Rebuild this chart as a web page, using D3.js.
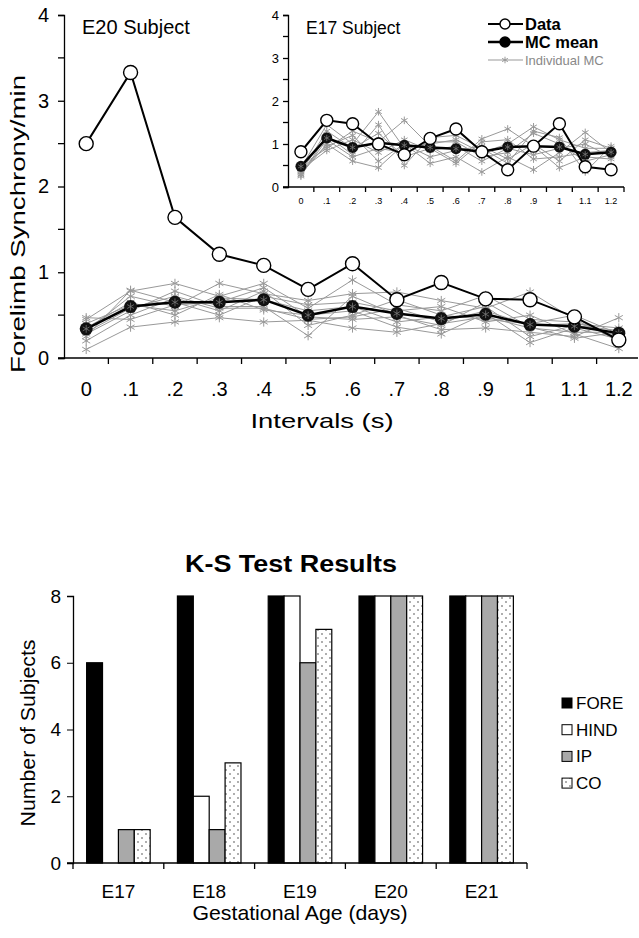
<!DOCTYPE html>
<html>
<head>
<meta charset="utf-8">
<script src="https://cdn.jsdelivr.net/npm/d3@7"></script>
<style>
  body { margin: 0; background: #fff; }
  svg { display: block; font-family: "Liberation Sans", Arial, sans-serif; }
</style>
</head>
<body>
<svg id="fig" width="639" height="938"></svg>
<script>
// interval categories (s)
const intervals = ["0", ".1", ".2", ".3", ".4", ".5", ".6", ".7", ".8", ".9", "1", "1.1", "1.2"]
const insetIntervals = ["0", ".1", ".2", ".3", ".4", ".5", ".6", ".7", ".8", ".9", "1", "1.1", "1.2"]

// E20 subject (main panel)
const e20Data = [2.5, 3.33, 1.64, 1.21, 1.08, 0.8, 1.1, 0.68, 0.88, 0.69, 0.68, 0.48, 0.21]
const e20Mean = [0.34, 0.6, 0.65, 0.65, 0.68, 0.5, 0.6, 0.52, 0.46, 0.51, 0.39, 0.37, 0.29]
const e20MC = [
  [0.45, 0.78, 0.87, 0.72, 0.87, 0.58, 0.91, 0.62, 0.55, 0.73, 0.45, 0.42, 0.25],
  [0.32, 0.72, 0.6, 0.87, 0.75, 0.67, 0.75, 0.77, 0.67, 0.58, 0.77, 0.45, 0.2],
  [0.1, 0.36, 0.42, 0.47, 0.42, 0.44, 0.35, 0.3, 0.4, 0.48, 0.35, 0.3, 0.3],
  [0.28, 0.55, 0.78, 0.6, 0.6, 0.26, 0.72, 0.5, 0.33, 0.35, 0.3, 0.25, 0.47],
  [0.4, 0.62, 0.55, 0.7, 0.68, 0.55, 0.6, 0.42, 0.48, 0.6, 0.25, 0.38, 0.32],
  [0.2, 0.5, 0.7, 0.55, 0.78, 0.38, 0.5, 0.68, 0.5, 0.45, 0.4, 0.5, 0.28],
  [0.35, 0.65, 0.5, 0.74, 0.56, 0.5, 0.55, 0.36, 0.28, 0.52, 0.18, 0.35, 0.22],
  [0.25, 0.79, 0.65, 0.5, 0.72, 0.62, 0.65, 0.55, 0.6, 0.42, 0.5, 0.28, 0.11],
  [0.47, 0.45, 0.62, 0.65, 0.82, 0.48, 0.45, 0.48, 0.38, 0.65, 0.36, 0.23, 0.3],
  [0.3, 0.58, 0.72, 0.58, 0.58, 0.45, 0.48, 0.58, 0.42, 0.55, 0.38, 0.4, 0.35]
]

// E17 subject (inset)
const e17Data = [0.82, 1.55, 1.47, 1.0, 0.75, 1.13, 1.35, 0.82, 0.4, 0.95, 1.47, 0.47, 0.4]
const e17Mean = [0.48, 1.14, 0.92, 1.03, 0.97, 0.92, 0.89, 0.82, 0.93, 0.95, 0.93, 0.76, 0.81]
const e17MC = [
  [0.45, 1.45, 1.0, 1.75, 0.9, 1.0, 1.1, 0.8, 1.0, 1.4, 1.1, 0.9, 0.9],
  [0.3, 1.0, 0.6, 0.45, 1.0, 0.55, 0.7, 0.35, 0.7, 0.4, 0.8, 1.27, 0.8],
  [0.5, 0.9, 1.3, 1.05, 1.55, 0.95, 0.6, 1.12, 1.35, 0.95, 0.45, 0.7, 0.65],
  [0.25, 1.2, 0.75, 1.45, 0.5, 1.15, 1.2, 0.9, 0.55, 1.3, 1.15, 0.35, 0.95],
  [0.4, 0.85, 1.1, 0.8, 1.1, 0.85, 0.95, 0.6, 0.9, 0.75, 0.9, 1.0, 0.7],
  [0.35, 1.3, 0.9, 1.25, 0.7, 0.9, 0.55, 1.05, 1.1, 0.65, 0.7, 0.8, 0.85],
  [0.28, 1.1, 0.7, 0.9, 0.8, 1.05, 1.05, 0.7, 0.8, 1.25, 1.0, 0.6, 0.75],
  [0.42, 0.95, 1.2, 0.6, 1.0, 0.7, 0.85, 0.95, 0.65, 1.0, 0.6, 1.1, 0.9]
]
const synchronyTicks = [0, 1, 2, 3, 4]
const synchronyMinor = [0.5, 1.5, 2.5, 3.5]

// K-S test results
const ages = ["E17", "E18", "E19", "E20", "E21"]
const limbs = ["FORE", "HIND", "IP", "CO"]
const fore = [6, 8, 8, 8, 8]
const hind = [0, 2, 8, 8, 8]
const ip = [1, 1, 6, 8, 8]
const co = [1, 3, 7, 8, 8]
const subjectTicks = [0, 2, 4, 6, 8]

const svg = d3.select("#fig")
const grey = "#999"

const defs = svg.append("defs")
const pat = defs.append("pattern")
  .attr("id", "dots")
  .attr("width", 8).attr("height", 8)
  .attr("patternUnits", "userSpaceOnUse")
pat.append("rect").attr("width", 8).attr("height", 8).attr("fill", "#fff")
pat.append("circle").attr("cx", 2).attr("cy", 2).attr("r", 0.7).attr("fill", "#222")
pat.append("circle").attr("cx", 6).attr("cy", 6).attr("r", 0.7).attr("fill", "#222")

const star = d3.symbol().type(d3.symbolAsterisk)

// draws one line panel (main or inset)
function linePanel(opt) {
  const g = svg.append("g")
  const x = d3.scaleBand().domain(opt.cats).range(opt.xr)
  const y = d3.scaleLinear().domain([0, 4]).range(opt.yr)
  const cx = d => x(d) + x.bandwidth() / 2

  // y axis
  const ya = g.append("g")
    .attr("transform", `translate(${opt.xr[0]},0)`)
    .call(d3.axisLeft(y).tickValues(synchronyTicks).tickSize(opt.tick).tickPadding(opt.pad).tickFormat(d3.format("d")))
  ya.select(".domain").attr("stroke-width", 1.3)
  ya.selectAll(".tick line").attr("stroke-width", 1.3)
  ya.selectAll("text").style("font-size", opt.yfs + "px").attr("fill", "#000")
  ya.selectAll(".minor").data(synchronyMinor).join("line")
    .attr("class", "minor")
    .attr("x1", -opt.tick).attr("x2", 0)
    .attr("y1", d => y(d)).attr("y2", d => y(d))
    .attr("stroke", "#000").attr("stroke-width", 1.3)

  // x axis
  const xa = g.append("g").attr("transform", `translate(0,${opt.yr[0]})`)
  xa.append("line")
    .attr("x1", opt.xr[0] - opt.tick).attr("x2", opt.xEnd)
    .attr("stroke", "#000").attr("stroke-width", 1.3)
  xa.selectAll(".bt").data(opt.cats.slice(1).concat(["end"])).join("line")
    .attr("class", "bt")
    .attr("x1", d => d == "end" ? opt.xr[1] : x(d))
    .attr("x2", d => d == "end" ? opt.xr[1] : x(d))
    .attr("y1", 0).attr("y2", opt.tick)
    .attr("stroke", "#000").attr("stroke-width", 1.3)
  xa.selectAll(".lab").data(opt.cats).join("text")
    .attr("class", "lab")
    .attr("x", d => cx(d)).attr("y", opt.xlabY)
    .attr("text-anchor", "middle")
    .style("font-size", opt.xfs + "px")
    .text(d => d)

  const line = d3.line().x((d, i) => cx(opt.cats[i])).y(d => y(d))

  // individual Monte Carlo runs
  opt.mc.forEach(s => {
    g.append("path").attr("d", line(s))
      .attr("fill", "none").attr("stroke", grey).attr("stroke-width", 1)
    g.selectAll(null).data(s).join("path")
      .attr("d", star.size(opt.starSize)())
      .attr("transform", (d, i) => `translate(${cx(opt.cats[i])},${y(d)})`)
      .attr("fill", "none").attr("stroke", grey).attr("stroke-width", 1)
  })

  // MC mean
  g.append("path").attr("d", line(opt.mean))
    .attr("fill", "none").attr("stroke", "#000").attr("stroke-width", opt.lw + 0.5)
  g.selectAll(null).data(opt.mean).join("circle")
    .attr("cx", (d, i) => cx(opt.cats[i])).attr("cy", d => y(d))
    .attr("r", opt.r).attr("fill", "#111")
  g.selectAll(null).data(opt.mean).join("path")
    .attr("d", star.size(opt.starSize * 0.7)())
    .attr("transform", (d, i) => `translate(${cx(opt.cats[i])},${y(d)})`)
    .attr("fill", "none").attr("stroke", "#777").attr("stroke-width", 0.8)

  // data
  g.append("path").attr("d", line(opt.data))
    .attr("fill", "none").attr("stroke", "#000").attr("stroke-width", opt.lw)
  g.selectAll(null).data(opt.data).join("circle")
    .attr("cx", (d, i) => cx(opt.cats[i])).attr("cy", d => y(d))
    .attr("r", opt.r + 0.5).attr("fill", "#fff").attr("stroke", "#000").attr("stroke-width", 1.4)

  g.append("text").attr("x", opt.title[0]).attr("y", opt.title[1])
    .style("font-size", opt.title[2] + "px").text(opt.title[3])
  return g
}

linePanel({
  cats: intervals, xr: [64, 641], yr: [358, 15], xEnd: 638, tick: 6, pad: 9,
  yfs: 20, xfs: 20, xlabY: 38, lw: 2, r: 6.5, starSize: 60,
  data: e20Data, mean: e20Mean, mc: e20MC,
  title: [82, 34, 20, "E20 Subject"]
})

linePanel({
  cats: insetIntervals, xr: [288, 624], yr: [187, 15], xEnd: 624, tick: 5, pad: 4,
  yfs: 13, xfs: 9, xlabY: 17, lw: 2, r: 5.5, starSize: 40,
  data: e17Data, mean: e17Mean, mc: e17MC,
  title: [306, 34, 17.5, "E17 Subject"]
})

// axis titles, top panel
svg.append("text")
  .attr("transform", "translate(25,224) rotate(-90)")
  .attr("text-anchor", "middle")
  .attr("textLength", 298).attr("lengthAdjust", "spacingAndGlyphs")
  .style("font-size", "21px").text("Forelimb Synchrony/min")
svg.append("text")
  .attr("x", 322).attr("y", 428)
  .attr("text-anchor", "middle")
  .attr("textLength", 143).attr("lengthAdjust", "spacingAndGlyphs")
  .style("font-size", "21px").text("Intervals (s)")

// inset legend
const leg = svg.append("g")
const legRows = [
  { name: "Data", y: 24, fill: "#fff", lw: 2, col: "#000", fs: 16.5, w: "bold" },
  { name: "MC mean", y: 42, fill: "#000", lw: 2.5, col: "#000", fs: 16.5, w: "bold" },
  { name: "Individual MC", y: 60, fill: null, lw: 1, col: grey, fs: 13, w: "normal" }
]
legRows.forEach(r => {
  leg.append("line").attr("x1", 488).attr("x2", 523).attr("y1", r.y).attr("y2", r.y)
    .attr("stroke", r.col).attr("stroke-width", r.lw)
  if (r.fill) {
    leg.append("circle").attr("cx", 505).attr("cy", r.y).attr("r", 5)
      .attr("fill", r.fill).attr("stroke", "#000").attr("stroke-width", 1.4)
  } else {
    leg.append("path").attr("d", star.size(30)())
      .attr("transform", `translate(505,${r.y})`)
      .attr("fill", "none").attr("stroke", grey)
  }
  leg.append("text").attr("x", 525).attr("y", r.y + r.fs * 0.36)
    .style("font-size", r.fs + "px").style("font-weight", r.w)
    .attr("fill", r.col == grey ? "#888" : "#000").text(r.name)
})

// K-S bar chart
const bx = d3.scaleBand().domain(ages).range([73, 527]).paddingInner(0.3).paddingOuter(0.15)
const bx1 = d3.scaleBand().domain(limbs).range([0, bx.bandwidth()])
const by = d3.scaleLinear().domain([0, 8]).range([863, 596])
const fills = { FORE: "#000", HIND: "#fff", IP: "#a9a9a9", CO: "url(#dots)" }
const values = { FORE: fore, HIND: hind, IP: ip, CO: co }

const bars = svg.append("g")
ages.forEach((a, i) => {
  limbs.forEach(l => {
    const v = values[l][i]
    if (v == 0) return
    bars.append("rect")
      .attr("x", bx(a) + bx1(l)).attr("width", bx1.bandwidth())
      .attr("y", by(v)).attr("height", by(0) - by(v))
      .attr("fill", fills[l]).attr("stroke", "#000").attr("stroke-width", 1.2)
  })
})

const bya = svg.append("g").attr("transform", "translate(73,0)")
  .call(d3.axisLeft(by).tickValues(subjectTicks).tickSize(6).tickPadding(6))
bya.selectAll("text").style("font-size", "19px").attr("fill", "#000")
bya.select(".domain").attr("stroke-width", 1.3)

const bxa = svg.append("g").attr("transform", "translate(0,863)")
bxa.append("line").attr("x1", 67).attr("x2", 527).attr("stroke", "#000").attr("stroke-width", 1.3)
const step = bx.step()
bxa.selectAll(".bt").data(ages.concat(["end"])).join("line")
  .attr("class", "bt")
  .attr("x1", (d, i) => 73 + i * step).attr("x2", (d, i) => 73 + i * step)
  .attr("y1", 0).attr("y2", 6).attr("stroke", "#000").attr("stroke-width", 1.3)
bxa.selectAll(".lab").data(ages).join("text")
  .attr("class", "lab")
  .attr("x", d => bx(d) + bx.bandwidth() / 2).attr("y", 35)
  .attr("text-anchor", "middle").style("font-size", "19px").text(d => d)

svg.append("text").attr("x", 291).attr("y", 572)
  .attr("text-anchor", "middle")
  .attr("textLength", 212).attr("lengthAdjust", "spacingAndGlyphs")
  .style("font-size", "23px").style("font-weight", "bold").text("K-S Test Results")
svg.append("text")
  .attr("transform", "translate(35,733) rotate(-90)")
  .attr("text-anchor", "middle")
  .attr("textLength", 187).attr("lengthAdjust", "spacingAndGlyphs")
  .style("font-size", "20px").text("Number of Subjects")
svg.append("text").attr("x", 300).attr("y", 920)
  .attr("text-anchor", "middle")
  .attr("textLength", 215).attr("lengthAdjust", "spacingAndGlyphs")
  .style("font-size", "21px").text("Gestational Age (days)")

// bar legend
const bleg = svg.append("g")
limbs.forEach((l, i) => {
  const yy = 703 + i * 26.7
  bleg.append("rect").attr("x", 562).attr("y", yy - 5).attr("width", 10).attr("height", 10)
    .attr("fill", fills[l]).attr("stroke", "#000").attr("stroke-width", 1)
  bleg.append("text").attr("x", 576).attr("y", yy + 6)
    .style("font-size", "17px").text(l)
})
</script>
</body>
</html>
